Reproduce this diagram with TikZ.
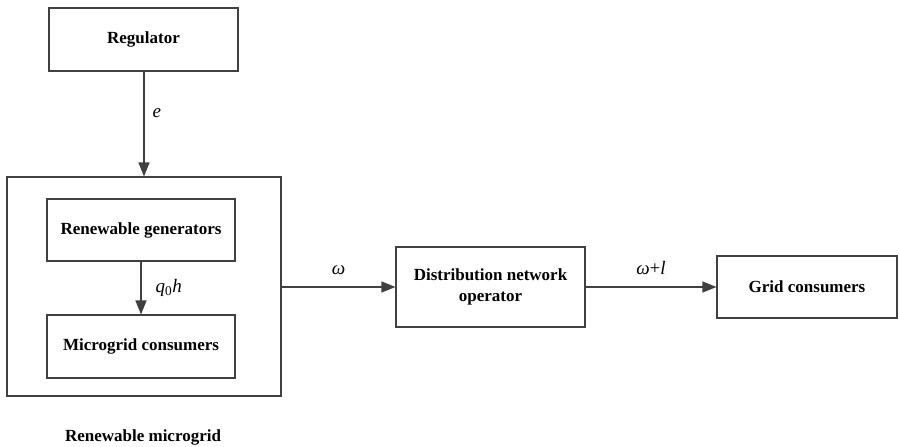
\documentclass[tikz,border=0pt]{standalone}
\usepackage{fontspec}
\setmainfont{Liberation Serif}
\usetikzlibrary{arrows.meta}
\begin{document}
\begin{tikzpicture}[x=1pt,y=-1pt,
  box/.style={draw=black!75,line width=1.1pt,fill=white,inner sep=0pt,align=center,font=\fontsize{17}{21}\selectfont\bfseries},
  conn/.style={draw=black!75,line width=1.3pt,-{Triangle[length=14pt,width=11pt]}},
  lbl/.style={font=\fontsize{19}{21}\selectfont\itshape,inner sep=0pt}]
\useasboundingbox (0,0) rectangle (900,447);
\node[box,minimum width=189pt,minimum height=63pt] (reg) at (143.5,39.5) {Regulator};
\node[box,minimum width=274pt,minimum height=219pt] (mg) at (144,286.5) {};
\node[box,minimum width=188pt,minimum height=62pt] (gen) at (141,230) {Renewable generators};
\node[box,minimum width=188pt,minimum height=63pt] (mc) at (141,346.5) {Microgrid consumers};
\node[box,minimum width=189pt,minimum height=80pt] (dno) at (490.5,287) {Distribution network\\operator};
\node[box,minimum width=180pt,minimum height=62pt] (gc) at (807,287) {Grid consumers};
\node[font=\fontsize{17}{19}\selectfont\bfseries] (mglbl) at (143,437) {Renewable microgrid};
\draw[conn] (reg.south -| 144,0) -- (mg.north -| 144,0) node[lbl,pos=0.4,right=8pt] {e};
\draw[conn] (gen.south) -- (mc.north) node[lbl,midway,right=14pt] {q\textsubscript{\upshape 0}h};
\draw[conn] (mg.east |- dno.west) -- (dno.west) node[lbl,midway,above=12pt] {ω};
\draw[conn] (dno.east) -- (gc.west) node[lbl,midway,above=12pt] {ω\textup{+}l};
\end{tikzpicture}
\end{document}
